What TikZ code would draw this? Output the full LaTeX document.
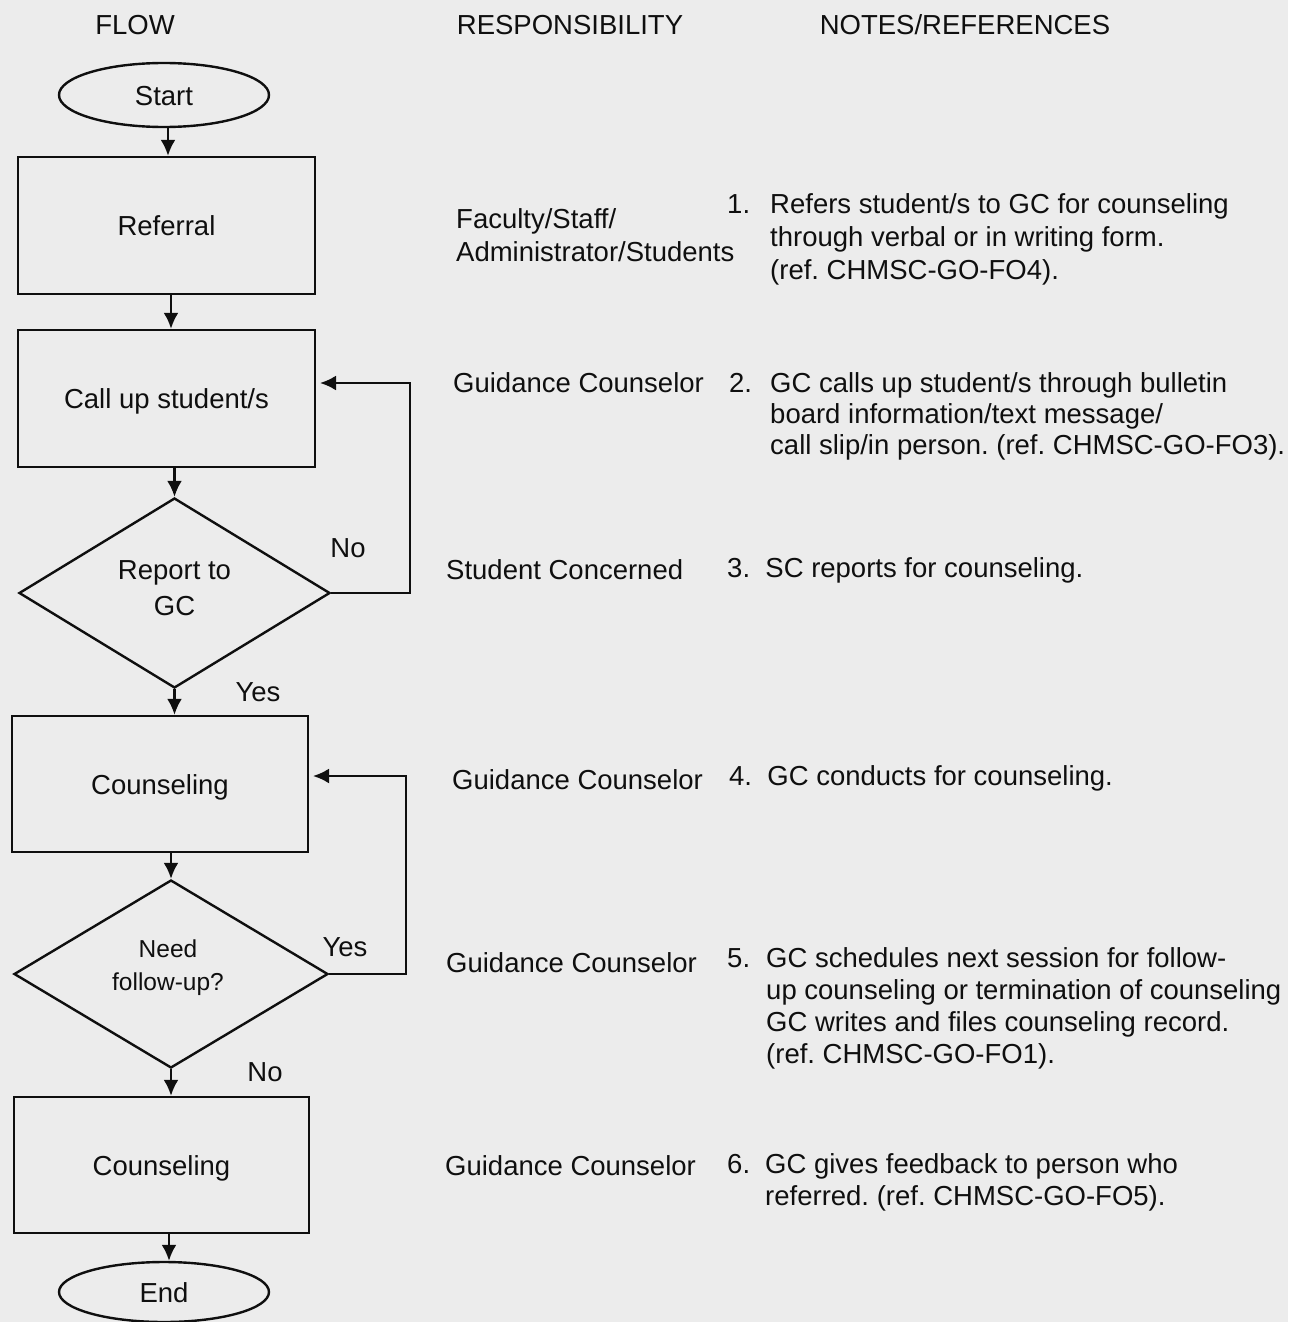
\documentclass[tikz,border=0pt]{standalone}
\usepackage{fontspec}
\setmainfont{Liberation Sans}
\usetikzlibrary{shapes.geometric,arrows.meta,calc}
\definecolor{paper}{RGB}{236,236,236}
\definecolor{ink}{RGB}{15,15,15}

\begin{document}
\frenchspacing
\begin{tikzpicture}[x=1pt,y=-1pt,
  every node/.style={text=ink},
  txt/.style={font=\fontsize{27.5}{33}\selectfont, inner sep=0pt},
  lbl/.style={txt, anchor=west},
  note/.style={txt, anchor=north west, align=left},
  stepbox/.style={rectangle, draw=ink, line width=2.4pt, minimum width=297pt,
    minimum height=137pt, inner sep=0pt, text height=20pt, text depth=0pt,
    font=\fontsize{27.5}{33}\selectfont},
  terminal/.style={ellipse, draw=ink, line width=2.4pt, minimum width=210pt,
    minimum height=64pt, inner sep=0pt, text height=20pt, text depth=0pt,
    font=\fontsize{27.5}{33}\selectfont},
  decision/.style={diamond, draw=ink, line width=2.4pt, inner sep=0pt},
  arr/.style={draw=ink, line width=2.4pt, -{Latex[length=16pt,width=15pt]}},
]
\fill[paper] (0,0) rectangle (1288,1322);
\useasboundingbox (0,0) rectangle (1288,1322);

% column headings
\node[txt] (hflow) at (135,25) {FLOW};
\node[txt] (hresp) at (570,25) {RESPONSIBILITY};
\node[txt] (hnotes) at (965,25) {NOTES/REFERENCES};

% flow chart
\node[terminal] (start) at (164,95) {Start};
\node[stepbox] (referral) at (166.5,225.5) {Referral};
\node[stepbox] (callup) at (166.5,398.5) {Call up student/s};
\node[decision, minimum width=311pt, minimum height=190pt] (report) at (174.5,593) {};
\node[txt, align=center, font=\fontsize{27.5}{36}\selectfont] (reporttxt)
  at ($(report.center)+(0,-5)$) {Report to\\GC};
\node[stepbox, minimum width=296pt, minimum height=136pt] (couns) at (160,784) {Counseling};
\node[decision, minimum width=314pt, minimum height=188pt] (follow) at (171,974) {};
\node[txt, align=center, font=\fontsize{24.5}{33}\selectfont] (followtxt)
  at ($(follow.center)+(-3,-6)$) {Need\\follow-up?};
\node[stepbox, minimum width=295pt, minimum height=136pt] (final) at (161.5,1165) {Counseling};
\node[terminal, minimum height=60pt] (end) at (164,1292) {End};

% straight connectors
\coordinate (a0) at (168,127);
\coordinate (a1) at (171,294);
\coordinate (a2) at (174.5,467);
\coordinate (a4) at (171,852);
\coordinate (a6) at (169,1233);
\draw[arr] (a0) -- (a0 |- referral.north);
\draw[arr] (a1) -- (a1 |- callup.north);
\draw[arr] (a2) -- (report.north);
\draw[arr] (report.south) -- (report.south |- couns.north);
\draw[arr] (a4) -- (follow.north);
\draw[arr] (follow.south) -- (follow.south |- final.north);
\draw[arr] (a6) -- (a6 |- end.north);

% loops back
\coordinate (t1) at (320,383);
\coordinate (t2) at (313,776);
\draw[arr] (report.east) -- ++(79,0) |- (t1);
\draw[arr] (follow.east) -- ++(77,0) |- (t2);

\node[txt] (lno1) at (348,548) {No};
\node[txt] (lyes1) at (258,692) {Yes};
\node[txt] (lyes2) at (345,947) {Yes};
\node[txt] (lno2) at (265,1072) {No};

% responsibility column
\node[note] (r1) at (456,208) {Faculty/Staff/\\Administrator/Students};
\node[lbl] (r2) at (453,383) {Guidance Counselor};
\node[lbl] (r3) at (446,570) {Student Concerned};
\node[lbl] (r4) at (452,780) {Guidance Counselor};
\node[lbl] (r5) at (446,963) {Guidance Counselor};
\node[lbl] (r6) at (445,1166) {Guidance Counselor};

% notes column
\node[lbl] (n1num) at (727,204) {1.};
\node[note] (n1) at (770,193) {Refers student/s to GC for counseling\\through verbal or in writing form.\\(ref. CHMSC-GO-FO4).};
\node[lbl] (n2num) at (729,383) {2.};
\node[note, font=\fontsize{27.5}{31}\selectfont] (n2) at (770,372) {GC calls up student/s through bulletin\\board information/text message/\\call slip/in person. (ref. CHMSC-GO-FO3).};
\node[lbl] (n3) at (727,570) {3.\ \ SC reports for counseling.};
\node[lbl] (n4) at (729,778) {4.\ \ GC conducts for counseling.};
\node[lbl] (n5num) at (727,958) {5.};
\node[note, font=\fontsize{27.5}{32}\selectfont] (n5) at (766,947) {GC schedules next session for follow-\\up counseling or termination of counseling\\GC writes and files counseling record.\\(ref. CHMSC-GO-FO1).};
\node[lbl] (n6num) at (727,1164) {6.};
\node[note, font=\fontsize{27.5}{32}\selectfont] (n6) at (765,1153) {GC gives feedback to person who\\referred. (ref. CHMSC-GO-FO5).};
\end{tikzpicture}
\end{document}
